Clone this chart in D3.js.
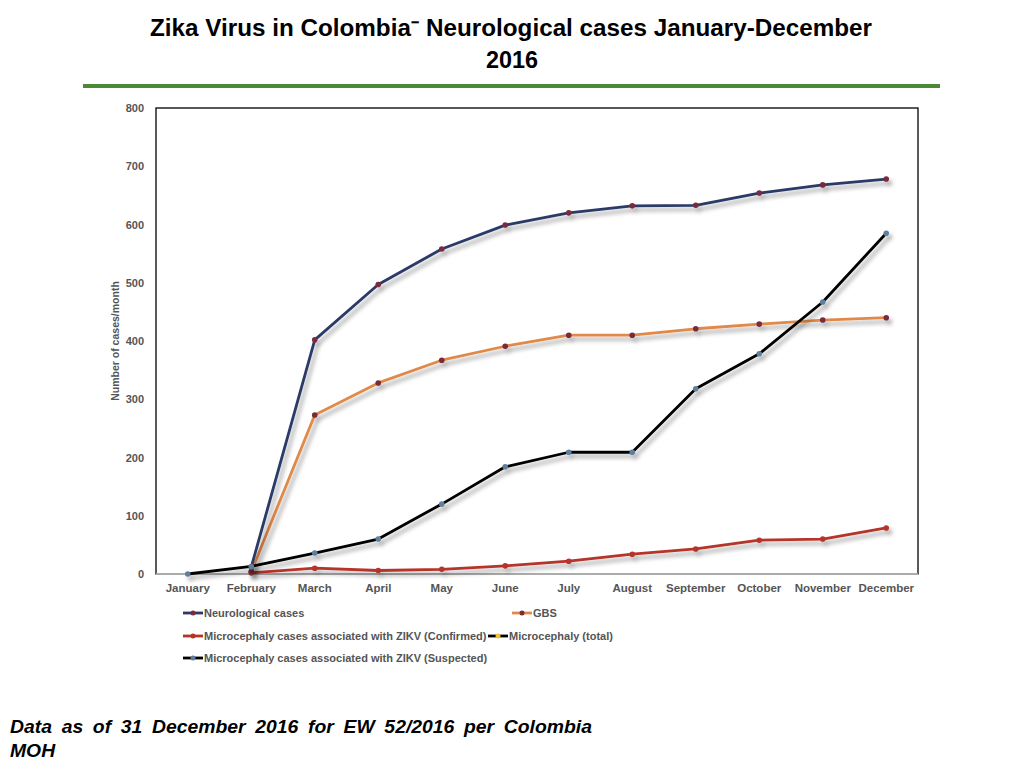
<!DOCTYPE html>
<html lang="en">
<head>
    <meta charset="UTF-8">
    <title>Zika Virus in Colombia</title>
    <script type="text/javascript" src="https://d3js.org/d3.v7.min.js"></script>
    <style>
        body { margin: 0; background: #fff; }
        text { font-family: "Liberation Sans", Arial, sans-serif; }
    </style>
</head>
<body>
<svg class="zika"></svg>

<script type="text/javascript">

    const width = 1024;
    const height = 768;

    const months = ["January", "February", "March", "April", "May", "June", "July",
        "August", "September", "October", "November", "December"];

    // null = no point that month
    const neurological = [null, 12, 402, 497, 558, 599, 620, 632, 633, 654, 668, 678];
    const gbs = [null, 4, 273, 328, 367, 391, 410, 410, 421, 429, 436, 440];
    const microConfirmed = [null, 2, 10, 6, 8, 14, 22, 34, 43, 58, 60, 79];
    const microSuspected = [0, 13, 36, 60, 120, 184, 209, 209, 318, 378, 467, 585];
    const microTotal = [null, null, null, null, null, null, null, null, null, null, null, null];

    const yTicks = [0, 100, 200, 300, 400, 500, 600, 700, 800];

    const series = [
        {name: "Neurological cases", values: neurological, color: "#2b3a67", dot: "#7a2b3c"},
        {name: "GBS", values: gbs, color: "#e0894a", dot: "#7a2b3c"},
        {name: "Microcephaly cases associated with ZIKV (Confirmed)", values: microConfirmed, color: "#b5342a", dot: "#b5342a"},
        {name: "Microcephaly (total)", values: microTotal, color: "#000000", dot: "#f2c12e"},
        {name: "Microcephaly cases associated with ZIKV (Suspected)", values: microSuspected, color: "#000000", dot: "#5f7f9c"}
    ];

    let plot = {left: 156, right: 918, top: 108, bottom: 574};

    let svg = d3.select(".zika")
        .attr("width", width)
        .attr("height", height);

    let defs = svg.append("defs");
    let shadow = defs.append("filter").attr("id", "shadow")
        .attr("x", "-10%").attr("y", "-10%").attr("width", "120%").attr("height", "130%");
    shadow.append("feDropShadow")
        .attr("dx", 3).attr("dy", 4).attr("stdDeviation", 2.2)
        .attr("flood-color", "#000").attr("flood-opacity", 0.35);

    // title
    let title = svg.append("g").attr("text-anchor", "middle")
        .style("font-weight", "bold")
        .style("font-size", "23px");
    title.append("text").attr("x", 511).attr("y", 36)
        .attr("textLength", 722).attr("lengthAdjust", "spacingAndGlyphs")
        .text("Zika Virus in Colombia\u207B  Neurological cases January-December");
    title.append("text").attr("x", 512).attr("y", 68)
        .attr("textLength", 52).attr("lengthAdjust", "spacingAndGlyphs")
        .text("2016");

    svg.append("line")
        .attr("x1", 83).attr("x2", 940).attr("y1", 86).attr("y2", 86)
        .attr("stroke", "#4a8a35").attr("stroke-width", 4);

    let x = d3.scaleBand().domain(months).range([plot.left, plot.right]);
    let y = d3.scaleLinear().domain([0, 800]).range([plot.bottom, plot.top]);

    // frame
    svg.append("rect")
        .attr("x", plot.left).attr("y", plot.top)
        .attr("width", plot.right - plot.left).attr("height", plot.bottom - plot.top)
        .attr("fill", "none").attr("stroke", "#000").attr("stroke-width", 1.3);
    svg.append("line")
        .attr("x1", plot.left).attr("x2", plot.right)
        .attr("y1", plot.bottom).attr("y2", plot.bottom)
        .attr("stroke", "#c8c8c8").attr("stroke-width", 1.5);

    // y axis
    let yAxis = svg.append("g")
        .attr("transform", "translate(" + plot.left + ",0)")
        .call(d3.axisLeft(y).tickValues(yTicks).tickSize(0).tickPadding(12));
    yAxis.select(".domain").remove();
    yAxis.selectAll("text")
        .style("font-size", "11px").style("font-weight", "bold").attr("fill", "#555");

    svg.append("text")
        .attr("transform", "translate(119,341) rotate(-90)")
        .attr("text-anchor", "middle")
        .style("font-size", "10.5px").style("font-weight", "bold").attr("fill", "#555")
        .text("Number of cases/month");

    // x axis
    let xAxis = svg.append("g")
        .attr("transform", "translate(0," + plot.bottom + ")")
        .call(d3.axisBottom(x).tickSize(0).tickPadding(10));
    xAxis.select(".domain").remove();
    xAxis.selectAll("text")
        .style("font-size", "11.5px").style("font-weight", "bold").attr("fill", "#555");

    // lines
    let line = d3.line()
        .defined(d => d.v !== null)
        .x(d => x(d.m) + x.bandwidth() / 2)
        .y(d => y(d.v));

    let drawOrder = [2, 1, 0, 4];
    drawOrder.forEach(function (i) {
        let s = series[i];
        let pts = s.values.map((v, j) => ({m: months[j], v: v}));
        let g = svg.append("g").attr("filter", "url(#shadow)");
        g.append("path").datum(pts)
            .attr("d", line)
            .attr("fill", "none")
            .attr("stroke", s.color)
            .attr("stroke-width", 2.8)
            .attr("stroke-linejoin", "round");
        g.selectAll("circle").data(pts.filter(d => d.v !== null)).enter().append("circle")
            .attr("cx", d => x(d.m) + x.bandwidth() / 2)
            .attr("cy", d => y(d.v))
            .attr("r", 2.8)
            .attr("fill", s.dot);
    });

    // legend
    let legendPos = [[183, 613], [512, 613], [183, 636], [488, 636], [183, 658]];
    series.forEach(function (s, i) {
        let lg = svg.append("g").attr("transform", "translate(" + legendPos[i][0] + "," + legendPos[i][1] + ")");
        lg.append("line").attr("x1", 0).attr("x2", 20).attr("y1", 0).attr("y2", 0)
            .attr("stroke", s.color).attr("stroke-width", 2.8);
        lg.append("circle").attr("cx", 10).attr("cy", 0).attr("r", 2.5).attr("fill", s.dot);
        lg.append("text").attr("x", 21).attr("y", 4)
            .style("font-size", "11px").style("font-weight", "bold").attr("fill", "#555")
            .text(s.name);
    });

    // footnote: a bit of extra word gap, then stretched to the justified width
    let note = svg.append("g")
        .style("font-size", "18px").style("font-weight", "bold").style("font-style", "italic");
    let noteLine = "Data as of 31 December 2016 for EW 52/2016 per Colombia";
    let first = note.append("text").attr("x", 10).attr("y", 733)
        .style("word-spacing", "4px").text(noteLine);
    let natural = first.node().getComputedTextLength();
    if (natural < 582) {
        first.attr("textLength", 582).attr("lengthAdjust", "spacingAndGlyphs");
    }
    note.append("text").attr("x", 10).attr("y", 757)
        .attr("transform", "translate(10,757) scale(" + Math.min(582 / natural, 1.12) + ",1) translate(-10,-757)")
        .text("MOH");

</script>
</body>
</html>
